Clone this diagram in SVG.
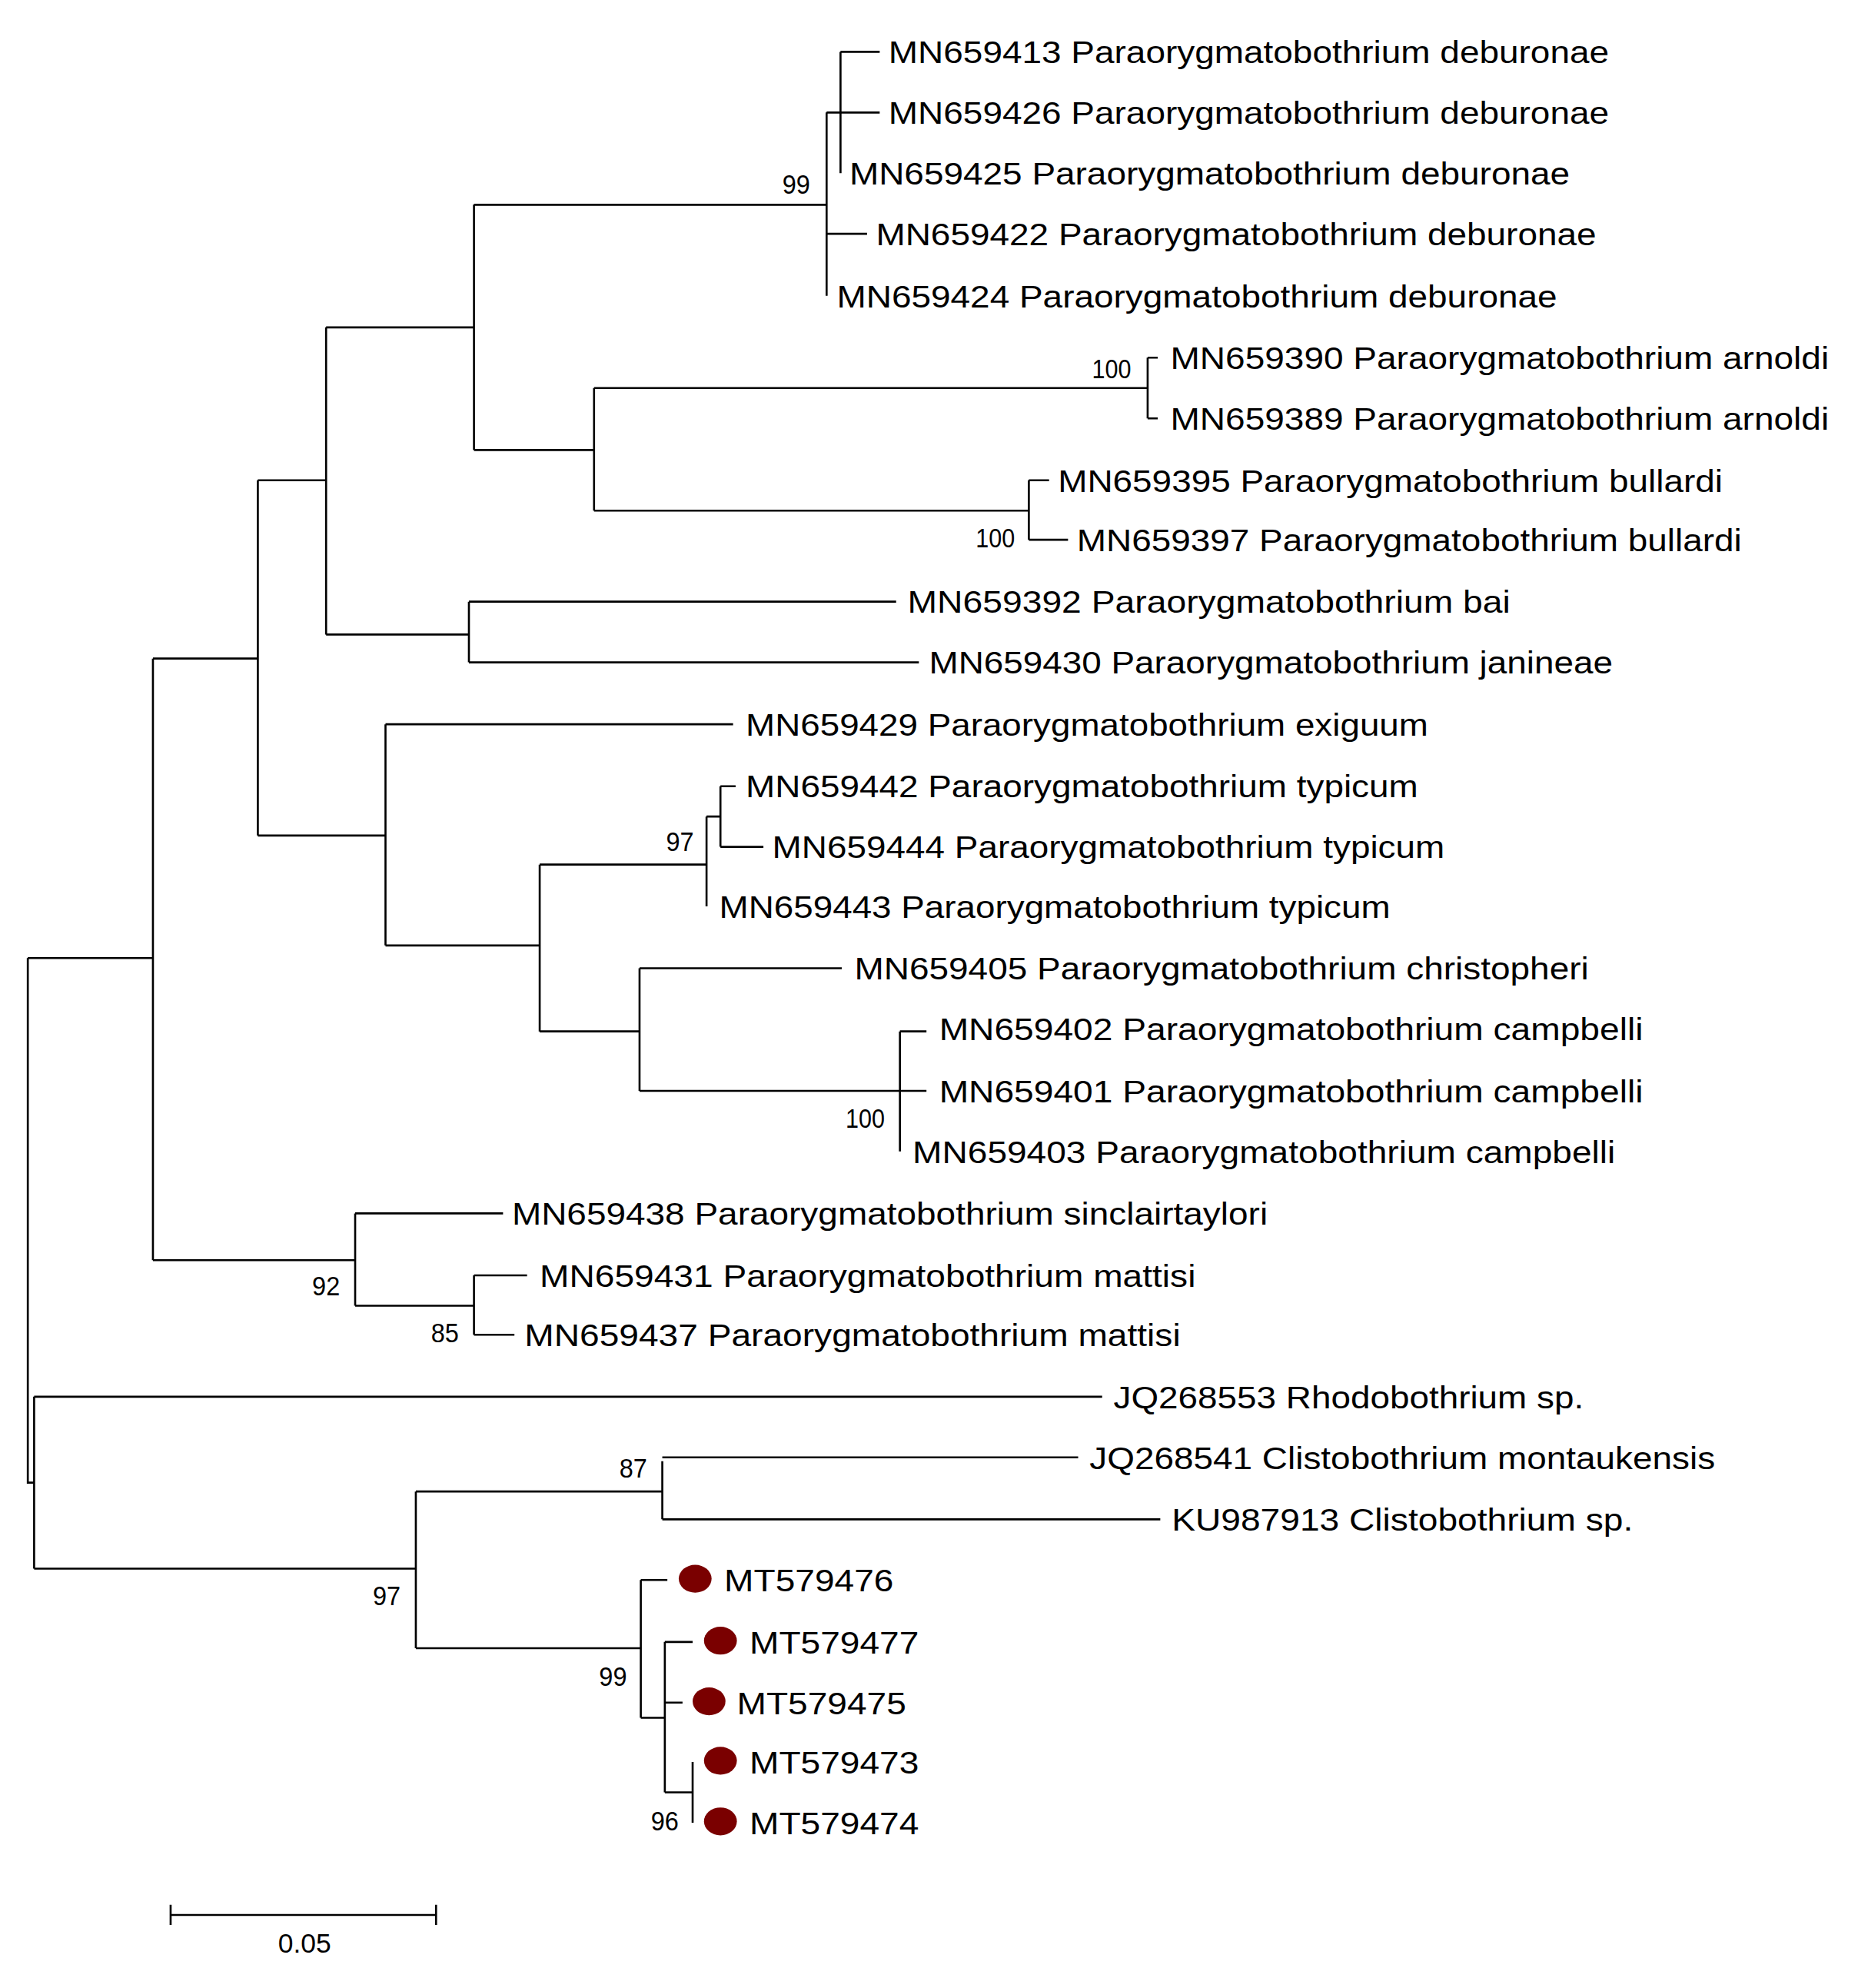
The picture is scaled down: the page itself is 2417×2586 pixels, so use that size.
<svg xmlns="http://www.w3.org/2000/svg" width="2417" height="2586" viewBox="0 0 2417 2586">
<style>
.e{fill:none;stroke:#000;stroke-width:1.6}
.t{font-family:"Liberation Sans",Arial,sans-serif;font-size:25px;fill:#000}
.b{font-family:"Liberation Sans",Arial,sans-serif;font-size:21px;fill:#000}
.d{fill:#7a0000}
</style>
<rect width="2417" height="2586" fill="#fff"/>
<g transform="scale(1.6442)">
<g id="connectors">
<path class="e" d="M654,89V234M375,162H654M665,41V137M665,41H696M654,89H696M654,185H686"/>
<path class="e" d="M375,162V356M258,259H375M470,307V404M375,356H470M908,283V331M470,307H908M908,283H916M908,331H916M814,380V427M470,404H814M814,380H830M814,427H845"/>
<path class="e" d="M258,259V502M204,380H258M371,476V524M258,502H371M371,476H709M371,524H727"/>
<path class="e" d="M204,380V661M121,521H204M305,573V748M204,661H305M305,573H580M427,684V816M305,748H427M559,646V717M427,684H559M570,622V670M559,646H570M570,622H582M570,670H604M506,766V863M427,816H506M506,766H666M712,816V911M506,863H733M712,816H733"/>
<path class="e" d="M121,521V997M22,758H121M281,960V1033M121,997H281M281,960H398M375,1009V1056M281,1033H375M375,1009H417M375,1056H407"/>
<path class="e" d="M22,758V1173H27M27,1105V1241M27,1105H872M27,1241H329M329,1180V1304M524,1156V1202M329,1180H524M524,1153H853M524,1202H918M507,1250V1359M329,1304H507M507,1250H528M526,1299V1418M507,1359H526M526,1299H548M526,1347H540M548,1394V1442M526,1418H548"/>
<path class="e" d="M135,1515H345M135,1507V1523M345,1507V1523"/>
</g>
<g id="support" class="b">
<text x="619" y="153" textLength="22" lengthAdjust="spacingAndGlyphs">99</text>
<text x="864" y="299" textLength="31" lengthAdjust="spacingAndGlyphs">100</text>
<text x="772" y="433" textLength="31" lengthAdjust="spacingAndGlyphs">100</text>
<text x="527" y="673" textLength="22" lengthAdjust="spacingAndGlyphs">97</text>
<text x="669" y="892" textLength="31" lengthAdjust="spacingAndGlyphs">100</text>
<text x="247" y="1025" textLength="22" lengthAdjust="spacingAndGlyphs">92</text>
<text x="341" y="1062" textLength="22" lengthAdjust="spacingAndGlyphs">85</text>
<text x="490" y="1169" textLength="22" lengthAdjust="spacingAndGlyphs">87</text>
<text x="295" y="1270" textLength="22" lengthAdjust="spacingAndGlyphs">97</text>
<text x="474" y="1334" textLength="22" lengthAdjust="spacingAndGlyphs">99</text>
<text x="515" y="1448" textLength="22" lengthAdjust="spacingAndGlyphs">96</text>
<text x="220" y="1545" textLength="42" lengthAdjust="spacingAndGlyphs">0.05</text>
</g>
<g class="t">
<g id="n0"><text x="703" y="50" textLength="570" lengthAdjust="spacingAndGlyphs">MN659413 Paraorygmatobothrium deburonae</text></g>
<g id="n1"><text x="703" y="98" textLength="570" lengthAdjust="spacingAndGlyphs">MN659426 Paraorygmatobothrium deburonae</text></g>
<g id="n2"><text x="672" y="146" textLength="570" lengthAdjust="spacingAndGlyphs">MN659425 Paraorygmatobothrium deburonae</text></g>
<g id="n3"><text x="693" y="194" textLength="570" lengthAdjust="spacingAndGlyphs">MN659422 Paraorygmatobothrium deburonae</text></g>
<g id="n4"><text x="662" y="243" textLength="570" lengthAdjust="spacingAndGlyphs">MN659424 Paraorygmatobothrium deburonae</text></g>
<g id="n5"><text x="926" y="292" textLength="521" lengthAdjust="spacingAndGlyphs">MN659390 Paraorygmatobothrium arnoldi</text></g>
<g id="n6"><text x="926" y="340" textLength="521" lengthAdjust="spacingAndGlyphs">MN659389 Paraorygmatobothrium arnoldi</text></g>
<g id="n7"><text x="837" y="389" textLength="526" lengthAdjust="spacingAndGlyphs">MN659395 Paraorygmatobothrium bullardi</text></g>
<g id="n8"><text x="852" y="436" textLength="526" lengthAdjust="spacingAndGlyphs">MN659397 Paraorygmatobothrium bullardi</text></g>
<g id="n9"><text x="718" y="485" textLength="477" lengthAdjust="spacingAndGlyphs">MN659392 Paraorygmatobothrium bai</text></g>
<g id="n10"><text x="735" y="533" textLength="541" lengthAdjust="spacingAndGlyphs">MN659430 Paraorygmatobothrium janineae</text></g>
<g id="n11"><text x="590" y="582" textLength="540" lengthAdjust="spacingAndGlyphs">MN659429 Paraorygmatobothrium exiguum</text></g>
<g id="n12"><text x="590" y="631" textLength="532" lengthAdjust="spacingAndGlyphs">MN659442 Paraorygmatobothrium typicum</text></g>
<g id="n13"><text x="611" y="679" textLength="532" lengthAdjust="spacingAndGlyphs">MN659444 Paraorygmatobothrium typicum</text></g>
<g id="n14"><text x="569" y="726" textLength="531" lengthAdjust="spacingAndGlyphs">MN659443 Paraorygmatobothrium typicum</text></g>
<g id="n15"><text x="676" y="775" textLength="581" lengthAdjust="spacingAndGlyphs">MN659405 Paraorygmatobothrium christopheri</text></g>
<g id="n16"><text x="743" y="823" textLength="557" lengthAdjust="spacingAndGlyphs">MN659402 Paraorygmatobothrium campbelli</text></g>
<g id="n17"><text x="743" y="872" textLength="557" lengthAdjust="spacingAndGlyphs">MN659401 Paraorygmatobothrium campbelli</text></g>
<g id="n18"><text x="722" y="920" textLength="556" lengthAdjust="spacingAndGlyphs">MN659403 Paraorygmatobothrium campbelli</text></g>
<g id="n19"><text x="405" y="969" textLength="598" lengthAdjust="spacingAndGlyphs">MN659438 Paraorygmatobothrium sinclairtaylori</text></g>
<g id="n20"><text x="427" y="1018" textLength="519" lengthAdjust="spacingAndGlyphs">MN659431 Paraorygmatobothrium mattisi</text></g>
<g id="n21"><text x="415" y="1065" textLength="519" lengthAdjust="spacingAndGlyphs">MN659437 Paraorygmatobothrium mattisi</text></g>
<g id="n22"><text x="881" y="1114" textLength="372" lengthAdjust="spacingAndGlyphs">JQ268553 Rhodobothrium sp.</text></g>
<g id="n23"><text x="862" y="1162" textLength="495" lengthAdjust="spacingAndGlyphs">JQ268541 Clistobothrium montaukensis</text></g>
<g id="n24"><text x="927" y="1211" textLength="365" lengthAdjust="spacingAndGlyphs">KU987913 Clistobothrium sp.</text></g>
<g id="n25"><ellipse class="d" cx="550" cy="1249" rx="13" ry="11"/><text x="573" y="1259" textLength="134" lengthAdjust="spacingAndGlyphs">MT579476</text></g>
<g id="n26"><ellipse class="d" cx="570" cy="1298" rx="13" ry="11"/><text x="593" y="1308" textLength="134" lengthAdjust="spacingAndGlyphs">MT579477</text></g>
<g id="n27"><ellipse class="d" cx="561" cy="1346" rx="13" ry="11"/><text x="583" y="1356" textLength="134" lengthAdjust="spacingAndGlyphs">MT579475</text></g>
<g id="n28"><ellipse class="d" cx="570" cy="1393" rx="13" ry="11"/><text x="593" y="1403" textLength="134" lengthAdjust="spacingAndGlyphs">MT579473</text></g>
<g id="n29"><ellipse class="d" cx="570" cy="1441" rx="13" ry="11"/><text x="593" y="1451" textLength="134" lengthAdjust="spacingAndGlyphs">MT579474</text></g>
</g>
</g>
</svg>
